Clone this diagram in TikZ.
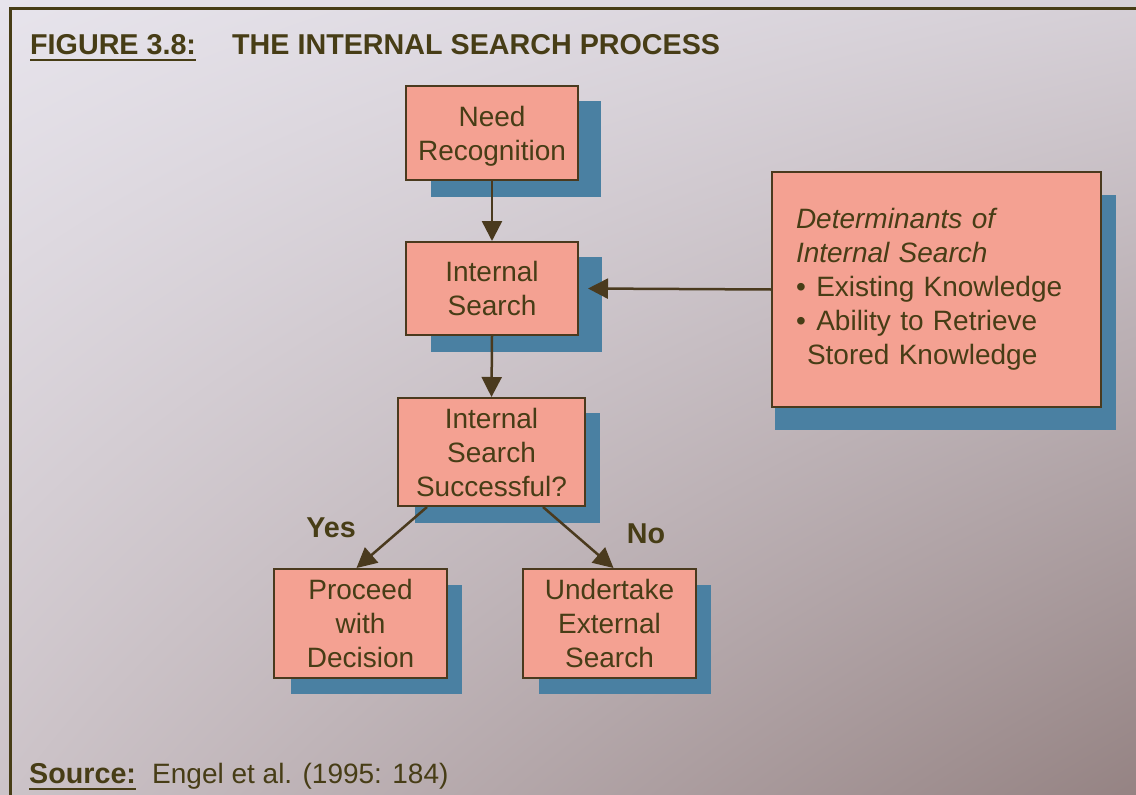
\documentclass[tikz,border=0pt]{standalone}
\usepackage{fontspec}
\setmainfont{Liberation Sans}
\usetikzlibrary{arrows.meta,shadings}

\definecolor{ink}{HTML}{473D16}
\definecolor{edge}{HTML}{4A3A1E}
\definecolor{salmon}{HTML}{F4A192}
\definecolor{shadowblue}{HTML}{4A80A2}
\definecolor{bgTL}{HTML}{E7E4EC}
\definecolor{bgTR}{HTML}{D6D0D7}
\definecolor{bgBL}{HTML}{CCC3C8}
\definecolor{bgBR}{HTML}{958383}

\begin{document}
\begin{tikzpicture}[x=1pt,y=-1pt,
  box/.style={draw=edge, line width=2pt, fill=salmon, inner sep=0pt,
    align=center, text=ink, font=\fontsize{28}{34}\selectfont},
  shadowbox/.style={fill=shadowblue},
  arr/.style={draw=edge, line width=2.5pt,
    -{Triangle[width=20pt,length=20pt]}},
  lbl/.style={text=ink, inner sep=0pt, font=\fontsize{28.7}{34}\selectfont\bfseries},
  plain/.style={text=ink, inner sep=0pt, font=\fontsize{28}{34}\selectfont},
  uline/.style={draw=ink, line width=2pt},
]
\useasboundingbox (0,0) rectangle (1136,795);

% page background and frame
\shade[upper left=bgTL, upper right=bgTR, lower left=bgBL, lower right=bgBR]
  (0,0) rectangle (1136,795);
\draw[ink, line width=3pt] (1136,8) -- (10,8) -- (10,795);

% heading
\node[lbl, anchor=base west] (fig) at (30,54) {FIGURE 3.8:};
\node[lbl, anchor=base west] (title) at (232,54) {THE INTERNAL SEARCH PROCESS};
\draw[uline] ([yshift=-6pt]fig.base west) -- ([yshift=-6pt]fig.base east);

% drop shadows
\fill[shadowbox] (431,101) rectangle (601,197);
\fill[shadowbox] (431,257) rectangle (602,352);
\fill[shadowbox] (415,413) rectangle (600,523);
\fill[shadowbox] (291,585) rectangle (462,694);
\fill[shadowbox] (539,585) rectangle (711,694);
\fill[shadowbox] (775,195) rectangle (1116,430);

% process boxes
\node[box, minimum width=172pt, minimum height=94pt] (need) at (492,133)
  {\rule{0pt}{26pt}Need\\Recognition};
\node[box, minimum width=172pt, minimum height=93pt] (search) at (492,288.5)
  {Internal\\Search};
\node[box, minimum width=187pt, minimum height=108pt] (success) at (491.5,452)
  {Internal\\Search\\Successful?};
\node[box, minimum width=173pt, minimum height=109pt] (proceed) at (360.5,623.5)
  {Proceed\\with\\Decision};
\node[box, minimum width=173pt, minimum height=109pt] (external) at (609.5,623.5)
  {Undertake\\External\\Search};
\node[box, minimum width=329pt, minimum height=235pt, text width=281pt,
  inner xsep=24pt, align=left] (det) at (936.5,289.5)
  {\textit{Determinants of}\\
   \textit{Internal Search}\\
   \textbullet\hspace{10.5pt}Existing Knowledge\\
   \textbullet\hspace{10.5pt}Ability to Retrieve\\
   \hspace*{11pt}Stored Knowledge};

% connectors
\draw[arr] (need.south) -- (search.north);
\draw[arr] (search.south) -- (success.north);
\draw[arr] (det.west) -- ([xshift=9pt]search.east);
\draw[arr] ([xshift=30pt]success.south west) -- ([xshift=-4pt]proceed.north);
\draw[arr] ([xshift=-43pt]success.south east) -- ([xshift=4pt]external.north);

% branch labels
\node[lbl, anchor=base] (yes) at (331,537) {Yes};
\node[lbl, anchor=base] (no) at (646,543) {No};

% source line
\node[lbl, anchor=base west] (src) at (29,783) {Source:};
\node[plain, anchor=base west] (cite) at (152,783) {Engel et al. (1995: 184)};
\draw[uline] ([yshift=-6pt]src.base west) -- ([yshift=-6pt]src.base east);
\end{tikzpicture}
\end{document}
